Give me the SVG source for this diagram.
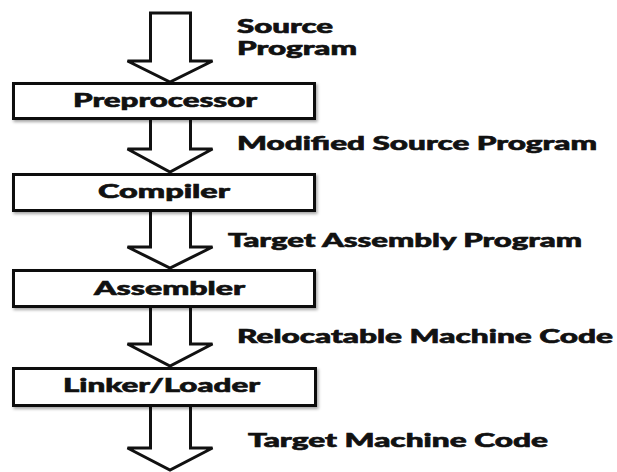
<svg xmlns="http://www.w3.org/2000/svg" width="617" height="472" viewBox="0 0 617 472">
<defs>
<filter id="sh" x="-5%" y="-20%" width="112%" height="160%">
<feDropShadow dx="1.5" dy="2" stdDeviation="1.5" flood-color="#000" flood-opacity="0.35"/>
</filter>
<style>
.arrow{fill:#fff;stroke:#111;stroke-width:3;stroke-linejoin:miter}
.box{fill:#fff;stroke:#111;stroke-width:3}
.t{font-family:Lato,"Liberation Sans",sans-serif;font-weight:900;font-size:18px;fill:#111;stroke:#111;stroke-width:0.6}
</style>
</defs>
<rect width="617" height="472" fill="#fff"/>
<g id="connectors">
<path class="arrow" d="M150.5,13 V61 H127.5 L170,82 L212.5,61 H190.5 V13 Z"/>
<path class="arrow" d="M150.5,120 V149 H127.5 L170,172 L212.5,149 H190.5 V120"/>
<path class="arrow" d="M150.5,212 V247 H127.5 L170,268 L212.5,247 H190.5 V212"/>
<path class="arrow" d="M150.5,308 V344 H127.5 L170,366 L212.5,344 H190.5 V308"/>
<path class="arrow" d="M150.5,407 V448 H127.5 L170,470 L212.5,448 H190.5 V407"/>
<text class="t" x="237" y="33" textLength="96" lengthAdjust="spacingAndGlyphs">Source</text>
<text class="t" x="237" y="55" textLength="120" lengthAdjust="spacingAndGlyphs">Program</text>
<text class="t" x="237" y="150" textLength="360" lengthAdjust="spacingAndGlyphs">Modified Source Program</text>
<text class="t" x="228" y="247" textLength="354" lengthAdjust="spacingAndGlyphs">Target Assembly Program</text>
<text class="t" x="237" y="343" textLength="376" lengthAdjust="spacingAndGlyphs">Relocatable Machine Code</text>
<text class="t" x="248" y="447" textLength="300" lengthAdjust="spacingAndGlyphs">Target Machine Code</text>
</g>
<g id="preprocessor">
<rect class="box" x="13.5" y="83.5" width="301" height="35" filter="url(#sh)"/>
<text class="t" x="73" y="107" textLength="184" lengthAdjust="spacingAndGlyphs">Preprocessor</text>
</g>
<g id="compiler">
<rect class="box" x="13.5" y="174.5" width="301" height="36" filter="url(#sh)"/>
<text class="t" x="98" y="198" textLength="132" lengthAdjust="spacingAndGlyphs">Compiler</text>
</g>
<g id="assembler">
<rect class="box" x="13.5" y="270.5" width="301" height="36" filter="url(#sh)"/>
<text class="t" x="94" y="295" textLength="151" lengthAdjust="spacingAndGlyphs">Assembler</text>
</g>
<g id="linker">
<rect class="box" x="13.5" y="368.5" width="302" height="37" filter="url(#sh)"/>
<text class="t" x="63" y="392" textLength="197" lengthAdjust="spacingAndGlyphs">Linker/Loader</text>
</g>
</svg>
